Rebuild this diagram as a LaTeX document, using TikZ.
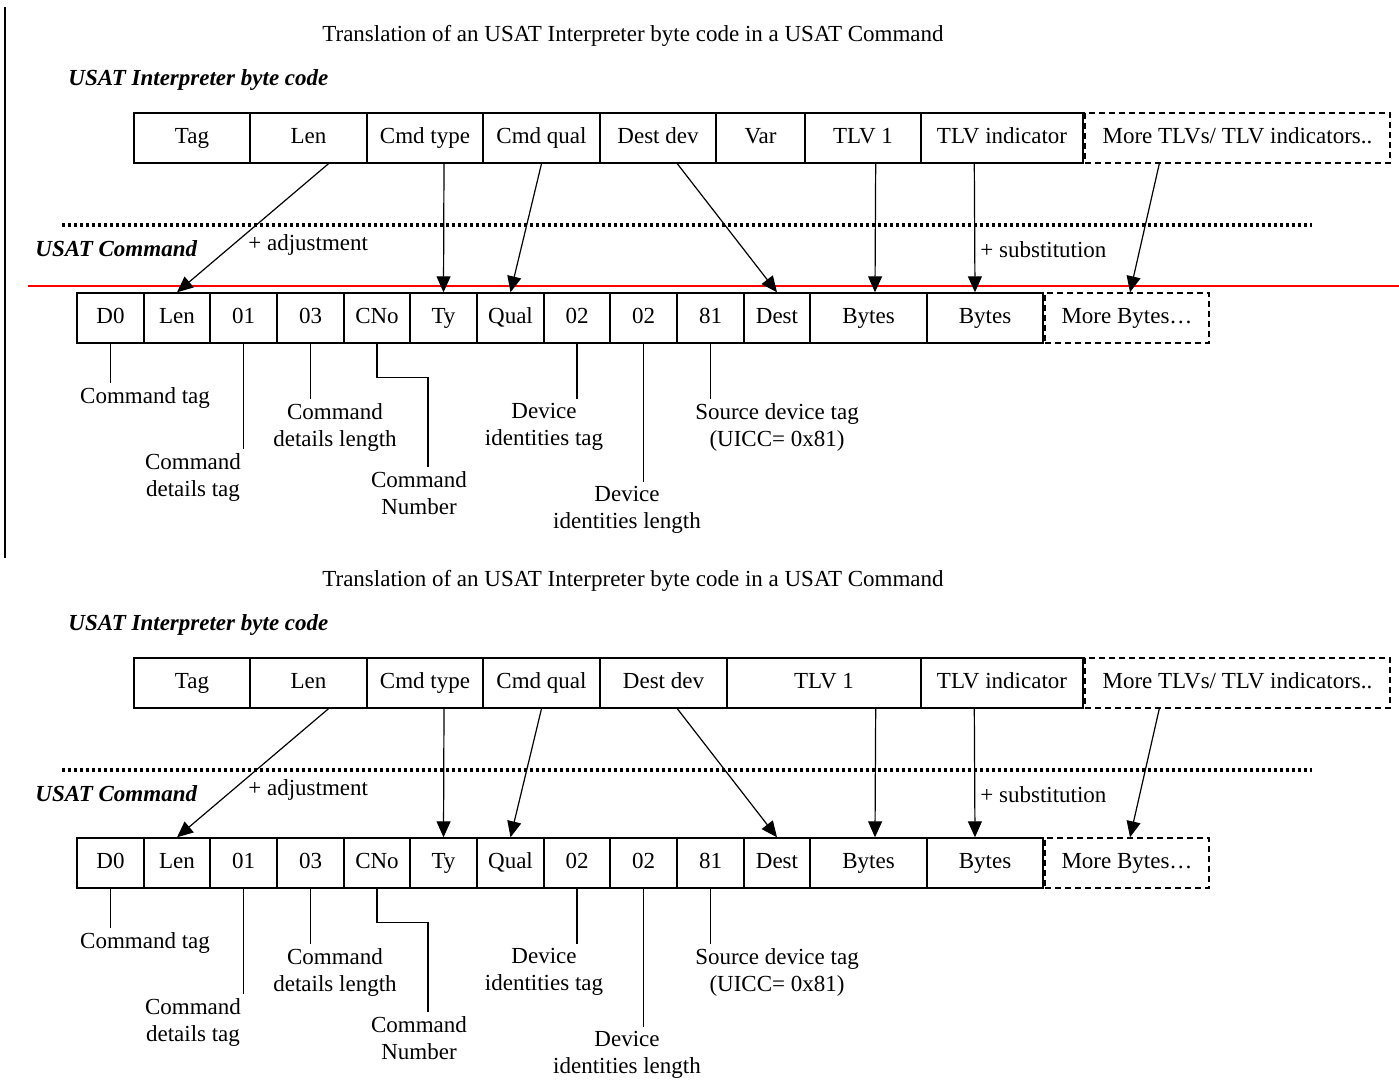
\documentclass[tikz,border=0pt]{standalone}
\usepackage{fontspec}
\setmainfont{Liberation Serif}
\usetikzlibrary{arrows.meta, calc}
\tikzset{
	cell/.style={rectangle, draw=black, line width=0.7pt, inner sep=0pt, minimum height=25pt, text height=8pt, text depth=2.5pt, font=\fontsize{11.5}{13.5}\selectfont},
	span/.style 2 args={minimum width=(#2-#1)*0.5pt},
	morecell/.style={cell, dash pattern=on 3pt off 2pt},
	note/.style={align=center, inner sep=2pt, font=\fontsize{11.5}{13.5}\selectfont},
	heading/.style={anchor=west, inner sep=0pt, font=\fontsize{11.5}{13.5}\selectfont\bfseries\itshape},
	arrow/.style={-{Triangle[length=8pt, width=7pt]}, line width=0.6pt},
	leader/.style={line width=0.6pt},
	divider/.style={line width=1.6pt, dash pattern=on 1.6pt off 1.4pt},
}

\begin{document}
\begin{tikzpicture}[x=0.5pt, y=-0.5pt]
	\useasboundingbox (0,0) rectangle (1399,1082);
	\draw[line width=1pt] (5,7) -- (5,558);
	\draw[red, line width=1pt] (28,286) -- (1399,286);
	\foreach \p/\dy/\dr/\tl in {a/0/716/805, b/545/727/727} {
		% headings
		\node[note] (\p-title) at (633,36+\dy) {Translation of an USAT Interpreter byte code in a USAT Command};
		\node[heading] (\p-src) at (68,80+\dy) {USAT Interpreter byte code};
		\node[heading] (\p-dst) at (35,249+\dy) {USAT Command};
		\node[note, anchor=west, inner sep=0pt] (\p-adj) at (248,245+\dy) {+ adjustment};
		\node[note, anchor=west, inner sep=0pt] (\p-sub) at (980,250+\dy) {+ substitution};
		\draw[divider] (62,225+\dy) -- (1312,225+\dy);
		% byte code row
		\node[cell, span={134}{250}] (\p-tag) at (192,138+\dy) {Tag};
		\node[cell, span={250}{367}] (\p-len) at (308.5,138+\dy) {Len};
		\node[cell, span={367}{483}] (\p-type) at (425,138+\dy) {Cmd type};
		\node[cell, span={483}{600}] (\p-qual) at (541.5,138+\dy) {Cmd qual};
		\node[cell, span={600}{\dr}] (\p-dev) at ({(600+\dr)/2},138+\dy) {Dest dev};
		\ifnum\dy=0 \node[cell, span={716}{805}] (\p-var) at (760.5,138) {Var}; \fi
		\node[cell, span={\tl}{921}] (\p-tlv) at ({(\tl+921)/2},138+\dy) {TLV 1};
		\node[cell, span={921}{1083}] (\p-ind) at (1002,138+\dy) {TLV indicator};
		\node[morecell, span={1085}{1390}] (\p-more) at (1237.5,138+\dy) {More TLVs/ TLV indicators..};
		% command row
		\foreach \n/\l/\r/\t in {d0/77/144/D0, clen/144/210/Len, c01/210/277/01, c03/277/344/03,
			cno/344/410/CNo, ty/410/477/Ty, cqual/477/544/Qual, c02/544/610/02, d02/610/677/02,
			c81/677/744/81, dest/744/810/Dest, bytes/810/927/Bytes, bytesb/927/1043/Bytes}
			\node[cell, span={\l}{\r}] (\p-\n) at ({(\l+\r)/2},318+\dy) {\t};
		\node[morecell, span={1045}{1209}] (\p-morebytes) at (1127,318+\dy) {More Bytes…};
		% translation arrows
		\draw[arrow] ($(\p-len.south)+(20,0)$) -- (\p-clen.north);
		\draw[arrow] ($(\p-type.south)+(19,0)$) -- (\p-ty.north);
		\draw[arrow] (\p-qual.south) -- (\p-cqual.north);
		\draw[arrow] ($(\p-dev.south west)+(78,0)$) -- (\p-dest.north);
		\draw[arrow] ($(\p-tlv.south east)+(-46,0)$) -- ($(\p-bytes.north)+(6.5,0)$);
		\draw[arrow] ($(\p-ind.south west)+(54,0)$) -- ($(\p-bytesb.north)+(-10,0)$);
		\draw[arrow] ($(\p-more.south west)+(75,0)$) -- ($(\p-morebytes.north)+(3,0)$);
		% field notes
		\node[note] (\p-ctag) at (145,398+\dy) {Command tag};
		\node[note] (\p-cdtag) at (193,477+\dy) {Command\\details tag};
		\node[note] (\p-cdlen) at (335,427+\dy) {Command\\details length};
		\node[note] (\p-cnum) at (419,493+\dy) {Command\\Number};
		\node[note] (\p-ditag) at (544,427+\dy) {Device\\identities tag};
		\node[note] (\p-dilen) at (627,510+\dy) {Device\\identities length};
		\node[note] (\p-srctag) at (777,427+\dy) {Source device tag\\(UICC= 0x81)};
		\draw[leader] (\p-d0.south) -- (\p-d0.south |- \p-ctag.north);
		\draw[leader] (\p-c01.south) -- (\p-c01.south |- \p-cdtag.north);
		\draw[leader] (\p-c03.south) -- (\p-c03.south |- \p-cdlen.north);
		\draw[leader] (\p-cno.south) -- ++(0,34) -| ([xshift=4.5pt]\p-cnum.north);
		\draw[leader] (\p-c02.south) -- (\p-c02.south |- \p-ditag.north);
		\draw[leader] (\p-d02.south) -- (\p-d02.south |- \p-dilen.north);
		\draw[leader] (\p-c81.south) -- (\p-c81.south |- \p-srctag.north);
	}
\end{tikzpicture}
\end{document}
